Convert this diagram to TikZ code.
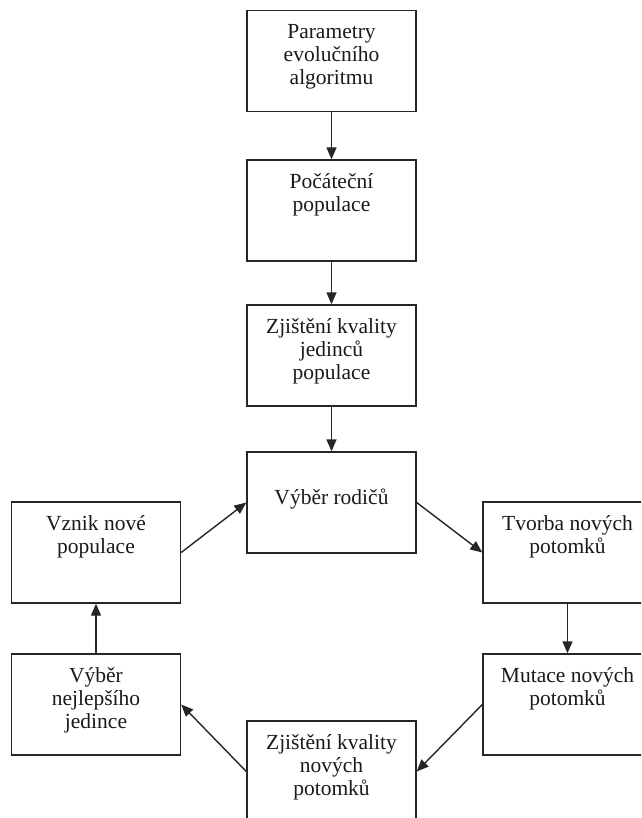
\documentclass[tikz,border=0pt]{standalone}
\usepackage{fontspec}
\setmainfont{Liberation Serif}
\usetikzlibrary{arrows.meta}
\newcommand\boxtxt[2][14pt]{\parbox[c][101pt][t]{165pt}{\centering\vspace*{#1}#2\par}}
\begin{document}
\begin{tikzpicture}[x=1pt,y=-1pt,
  stepbox/.style={draw=black!85,line width=1.4pt,rectangle,minimum width=169pt,minimum height=101pt,inner sep=0pt,
    font=\fontsize{21.5}{23}\selectfont,text=black!90},
  flow/.style={draw=black!85,line width=1.4pt,-{Triangle[length=12pt,width=10pt]}}]
\useasboundingbox (0,0) rectangle (641,818);
\clip (0,0) rectangle (641,818);
\node[stepbox] (b1) at (331.5,61) {\boxtxt{Parametry\\evolučního\\algoritmu}};
\node[stepbox] (b2) at (331.5,210.5) {\boxtxt{Počáteční\\populace}};
\node[stepbox] (b3) at (331.5,355.5) {\boxtxt{Zjištění kvality\\jedinců\\populace}};
\node[stepbox] (b4) at (331.5,502.5) {\boxtxt[37pt]{Výběr rodičů}};
\node[stepbox] (vz) at (96,552.5) {\boxtxt{Vznik nové\\populace}};
\node[stepbox] (tv) at (567.5,552.5) {\boxtxt{Tvorba nových\\potomků}};
\node[stepbox] (mu) at (567.5,704.5) {\boxtxt{Mutace nových\\potomků}};
\node[stepbox] (b7) at (331.5,771.5) {\boxtxt{Zjištění kvality\\nových\\potomků}};
\node[stepbox] (b8) at (96,704.5) {\boxtxt{Výběr\\nejlepšího\\jedince}};
\draw[flow] (b1) -- (b2);
\draw[flow] (b2) -- (b3);
\draw[flow] (b3) -- (b4);
\draw[flow] (b4.east) -- (tv.west);
\draw[flow] (tv) -- (mu);
\draw[flow] (mu.west) -- (b7.east);
\draw[flow] (b7.west) -- (b8.east);
\draw[flow] (b8) -- (vz);
\draw[flow] (vz.east) -- (b4.west);
\end{tikzpicture}
\end{document}
